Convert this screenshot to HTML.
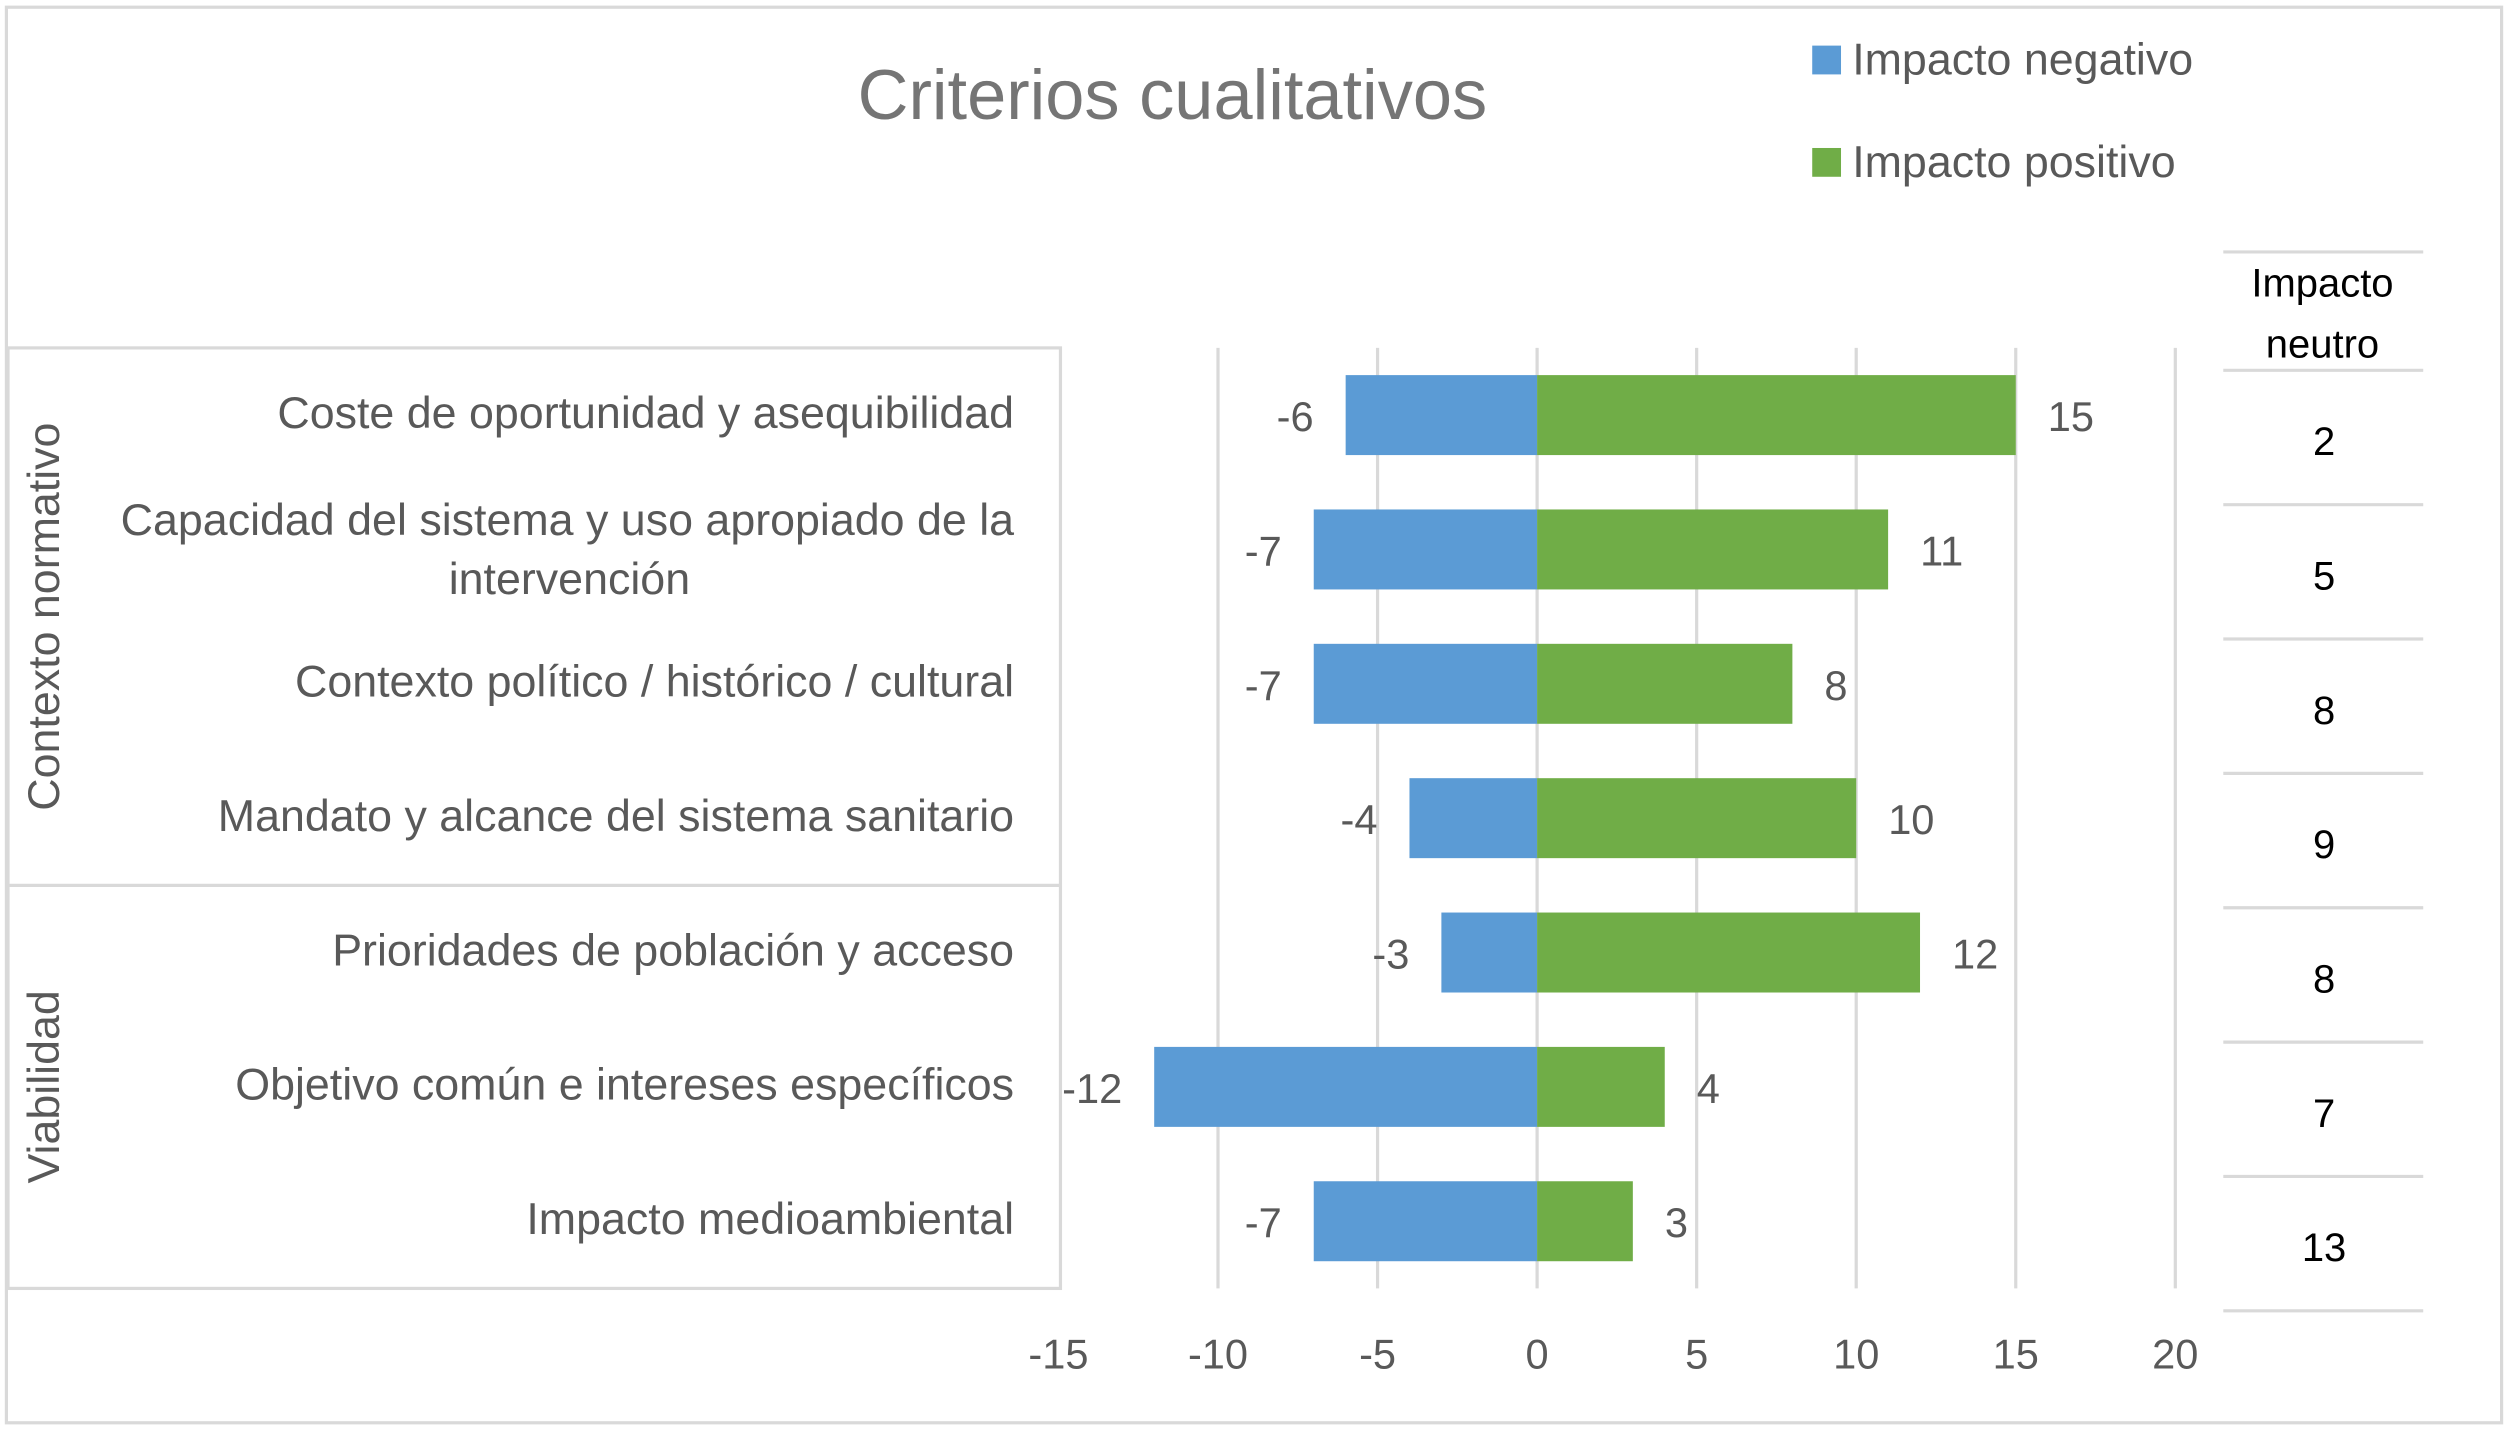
<!DOCTYPE html>
<html><head><meta charset="utf-8"><style>
html,body{margin:0;padding:0;background:#fff}
svg{display:block}
text{font-family:"Liberation Sans",sans-serif}
</style></head><body>
<svg id="chart" width="2508" height="1430" viewBox="0 0 1568 893" xmlns="http://www.w3.org/2000/svg">
<rect x="4" y="4" width="1560" height="885" fill="#fff" stroke="#d9d9d9" stroke-width="2"/>
<text x="733" y="74" font-size="44" fill="#757575" text-anchor="middle">Criterios cualitativos</text>
<g>
<rect x="1133" y="28" width="18" height="18" fill="#5B9BD5"/>
<text x="1158" y="46" font-size="28" fill="#595959">Impacto negativo</text>
<rect x="1133" y="92" width="18" height="18" fill="#70AD47"/>
<text x="1158" y="110" font-size="28" fill="#595959">Impacto positivo</text>
</g>
<g stroke="#d9d9d9" stroke-width="2" fill="none">
<rect x="5" y="217" width="658" height="588"/>
<line x1="5" y1="553" x2="663" y2="553"/>
</g>
<text transform="translate(37,385) rotate(-90)" font-size="28" fill="#595959" text-anchor="middle">Contexto normativo</text>
<text transform="translate(37,679) rotate(-90)" font-size="28" fill="#595959" text-anchor="middle">Viabilidad</text>
<g id="grid"></g>
<g id="bars"></g>
<g id="labels"></g>
<g id="ticks"></g>
<g id="neutral">
<text x="1452" y="185" font-size="25" fill="#000" text-anchor="middle">Impacto</text>
<text x="1452" y="223" font-size="25" fill="#000" text-anchor="middle">neutro</text>
</g>
</svg>
<script>
const categories=["Coste de oportunidad y asequibilidad",["Capacidad del sistema y uso apropiado de la","intervención"],"Contexto político / histórico / cultural","Mandato y alcance del sistema sanitario","Prioridades de población y acceso","Objetivo común e intereses específicos","Impacto medioambiental"];
const negative=[-6,-7,-7,-4,-3,-12,-7];
const positive=[15,11,8,10,12,4,3];
const neutral=[2,5,8,9,8,7,13];
const tickValues=[-15,-10,-5,0,5,10,15,20];
const NS="http://www.w3.org/2000/svg";
const X0=961,PX=19.95,TOP=217,BAND=84;
const xs=v=>X0+v*PX;
const yc=i=>TOP+BAND*(i+0.5);
function mk(tag,attrs,parent){const e=document.createElementNS(NS,tag);for(const k in attrs)e.setAttribute(k,attrs[k]);parent.appendChild(e);return e;}
const grid=document.getElementById('grid'),bars=document.getElementById('bars'),labels=document.getElementById('labels'),ticks=document.getElementById('ticks'),neu=document.getElementById('neutral');
tickValues.forEach(t=>{
 if(t!==-15){const l=mk('line',{x1:xs(t),x2:xs(t),y1:TOP,y2:805,stroke:'#d9d9d9','stroke-width':2},grid);
 
 }
 const tx=mk('text',{x:xs(t),y:855,'font-size':26,fill:'#595959','text-anchor':'middle'},ticks);tx.textContent=t;
 
 
});
categories.forEach((c,i)=>{
 const y=yc(i),h=50;
 const bn=mk('rect',{x:xs(negative[i]),y:y-h/2,width:xs(0)-xs(negative[i]),height:h,fill:'#5B9BD5'},bars);
 
 
 const bp=mk('rect',{x:xs(0),y:y-h/2,width:xs(positive[i])-xs(0),height:h,fill:'#70AD47'},bars);
 
 
 const ln=mk('text',{x:xs(negative[i])-20,y:y+10,'font-size':26,fill:'#595959','text-anchor':'end'},bars);ln.textContent=negative[i];
 
 
 const lp=mk('text',{x:xs(positive[i])+20,y:y+10,'font-size':26,fill:'#595959','text-anchor':'start'},bars);lp.textContent=positive[i];
 
 
 if(Array.isArray(c)){
  c.forEach((s,j)=>{const t=mk('text',{x:634,y:y-9+j*37,'font-size':28,fill:'#595959','text-anchor':j===0?'end':'middle'},labels);
  if(j===1)t.setAttribute('x',356);
  t.textContent=s;
  
  });
 }else{const t=mk('text',{x:634,y:y+8,'font-size':28,fill:'#595959','text-anchor':'end'},labels);t.textContent=c;
  
  }
 const nv=mk('text',{x:1453,y:y+25,'font-size':25,fill:'#000','text-anchor':'middle'},neu);nv.textContent=neutral[i];
 
 
});
[157,231,315,399,483,567,651,735,819].forEach(y=>{const l=mk('line',{x1:1390,x2:1515,y1:y,y2:y,stroke:'#d9d9d9','stroke-width':2},neu);
 
 });
</script>
</body></html>
